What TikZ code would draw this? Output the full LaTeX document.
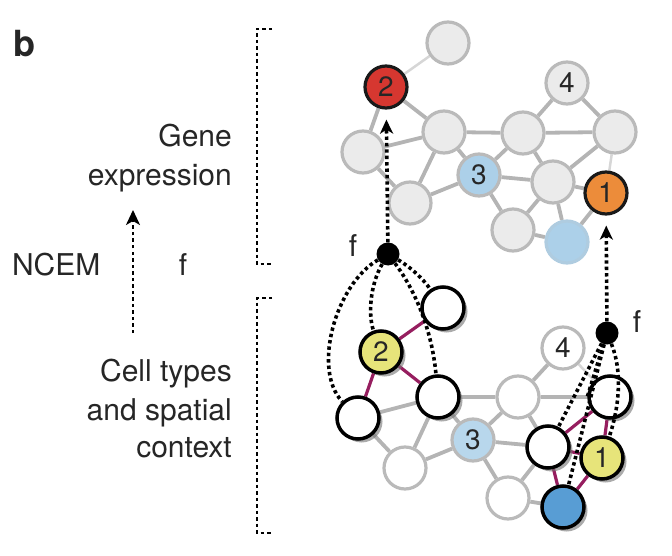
\documentclass[tikz,border=0pt]{standalone}
\usepackage{fontspec}
\setmainfont{TeX Gyre Heros}
\usetikzlibrary{arrows.meta, shadows, backgrounds}
\definecolor{cellgray}{RGB}{235,235,235}
\definecolor{rimgray}{RGB}{186,186,186}
\definecolor{edgegray}{RGB}{180,180,180}
\definecolor{faintgray}{RGB}{214,214,214}
\definecolor{exred}{RGB}{214,55,48}
\definecolor{exorange}{RGB}{236,140,58}
\definecolor{paleblue}{RGB}{172,208,233}
\definecolor{deepblue}{RGB}{88,157,212}
\definecolor{typeyellow}{RGB}{231,228,122}
\definecolor{nbpurple}{RGB}{150,30,95}
\tikzset{
    gene/.style={
        circle,
        draw=rimgray,
        fill=cellgray,
        line width=3.2pt,
        minimum size=42pt,
        inner sep=0pt,
        text=black!85,
        font=\fontsize{28}{28}\selectfont
    },
    cell/.style={gene, fill=white},
    hit/.style={gene, draw=black!90},
    ctx/.style={
        cell,
        draw=black,
        line width=3.5pt,
        drop shadow={shadow xshift=3.5pt, shadow yshift=-3.5pt, fill=black!55, opacity=0.6}
    },
    link/.style={draw=edgegray, line width=3.8pt},
    nblink/.style={draw=nbpurple, line width=3.2pt},
    fdot/.style={circle, fill=black, minimum size=23pt, inner sep=0pt},
    fline/.style={line width=3.6pt, dash pattern=on 3.4pt off 3pt},
    farrow/.style={
        fline,
        -{Stealth[length=14pt, width=13pt, inset=4pt]},
        shorten >=10pt
    },
    bracket/.style={line width=2.2pt, dash pattern=on 3.5pt off 3pt},
    lbl/.style={font=\fontsize{30}{30}\selectfont, text=black!85, inner sep=0pt}
}

\begin{document}
\begin{tikzpicture}[x=1pt, y=-1pt]
            \useasboundingbox (0,0) rectangle (672,556);

            % Left labels
            \node[lbl, font=\fontsize{36}{36}\selectfont\bfseries, anchor=base west] (panel) at (13,57) {b};
            \node[lbl, anchor=base east] (gene1) at (232,147) {Gene};
            \node[lbl, anchor=base east] (gene2) at (232,186) {expression};
            \node[lbl, anchor=base west] (ncem) at (12,276) {NCEM};
            \node[lbl, anchor=base] (fmid) at (183,276) {f};
            \node[lbl, anchor=base east] (cell1) at (232,381) {Cell types};
            \node[lbl, anchor=base east] (cell2) at (232,420) {and spatial};
            \node[lbl, anchor=base east] (cell3) at (232,457) {context};

            % NCEM arrow
            \coordinate (ncemlow) at (133,333);
            \coordinate (ncemhigh) at (133,210);
            \draw[bracket, -{Stealth[length=15pt, width=14pt, inset=4pt]}] (ncemlow) -- (ncemhigh);

            % Brackets
            \draw[bracket] (272,29) -- (257,29) -- (257,264) -- (272,264);
            \draw[bracket] (272,298) -- (257,298) -- (257,533) -- (272,533);

            % Gene expression graph
            \node[gene] (gtop) at (448,43) {};
            \node[hit, fill=exred] (g2) at (386,87) {2};
            \node[gene] (gl) at (363,152) {};
            \node[gene] (ga) at (444,132) {};
            \node[gene] (gb) at (523,133) {};
            \node[gene] (g4) at (567,83) {4};
            \node[gene] (gc) at (615,132) {};
            \node[gene, fill=paleblue] (g3) at (479,175) {3};
            \node[gene] (gd) at (553,182) {};
            \node[hit, fill=exorange] (g1) at (606,193) {1};
            \node[gene] (ge) at (410,203) {};
            \node[gene] (gf) at (513,230) {};
            \node[gene, fill=paleblue, draw=paleblue!80!rimgray] (gblue) at (567,242) {};

            % Cell graph
            \node[ctx] (ct) at (443,308) {};
            \node[ctx, fill=typeyellow] (c2) at (381,352) {2};
            \node[ctx] (cl) at (358,418) {};
            \node[ctx] (ca) at (438,397) {};
            \node[cell] (ce) at (405,468) {};
            \node[cell, fill=paleblue!85!white] (c3) at (473,440) {3};
            \node[cell] (cb) at (518,397) {};
            \node[cell] (c4) at (563,348) {4};
            \node[ctx] (cc) at (610,397) {};
            \node[ctx] (cd) at (548,447) {};
            \node[ctx, fill=typeyellow] (c1) at (602,458) {1};
            \node[cell] (cf) at (508,498) {};
            \node[ctx, fill=deepblue] (cblue) at (563,507) {};

            % f dots
            \node[fdot] (ftop) at (388,254) {};
            \node[lbl, anchor=base] (ftoplbl) at (353,257) {f};
            \node[fdot] (fbot) at (607,333) {};
            \node[lbl, anchor=base] (fbotlbl) at (637,332) {f};

            % Graph edges
            \begin{scope}[on background layer]
                \draw[link, draw=faintgray, line width=2.5pt] (gtop) -- (g2) (gc) -- (g1);
                \draw[link] (g2) -- (gl) (g2) -- (ga) (gl) -- (ga) (gl) -- (ge)
                    (ga) -- (ge) (ga) -- (g3) (ga) -- (gb) (gb) -- (g4)
                    (g4) -- (gc) (gb) -- (gc) (gb) -- (g3) (gb) -- (gd)
                    (gc) -- (gd) (g3) -- (gd) (g3) -- (ge) (g3) -- (gf)
                    (gd) -- (gf) (gd) -- (gblue) (gd) -- (g1) (gf) -- (gblue)
                    (g1) -- (gblue);
                \draw[link, draw=faintgray, line width=2.5pt] (c4) -- (cc);
                \draw[link] (cl) -- (ca) (cl) -- (ce) (ca) -- (ce) (ca) -- (c3)
                    (ca) -- (cb) (cb) -- (c4) (cb) -- (cc) (cb) -- (c3)
                    (cb) -- (cd) (c3) -- (cd) (c3) -- (ce) (c3) -- (cf)
                    (cd) -- (cf) (cf) -- (cblue);
                \draw[nblink] (c2) -- (ct) (c2) -- (cl) (c2) -- (ca)
                    (c1) -- (cc) (c1) -- (cd) (c1) -- (cblue) (cd) -- (cc)
                    (cd) -- (cblue);
            \end{scope}

            % Dotted links from f to the neighbourhood
            \draw[fline] (ftop) .. controls (335,285) and (312,370) .. (cl);
            \draw[fline] (ftop) .. controls (370,285) and (368,315) .. (c2);
            \draw[fline] (ftop) .. controls (415,290) and (432,330) .. (ca);
            \draw[fline] (ftop) .. controls (412,268) and (424,280) .. (ct);
            \draw[fline] (fbot) -- (cd);
            \draw[fline] (fbot) -- (cblue);
            \draw[fline] (fbot) -- (cc.west);
            \draw[fline] (fbot) .. controls (622,370) and (620,405) .. (c1);

            % Arrows up to gene expression
            \draw[farrow] (ftop) -- (g2);
            \draw[farrow] (fbot) -- (g1);
\end{tikzpicture}
\end{document}
